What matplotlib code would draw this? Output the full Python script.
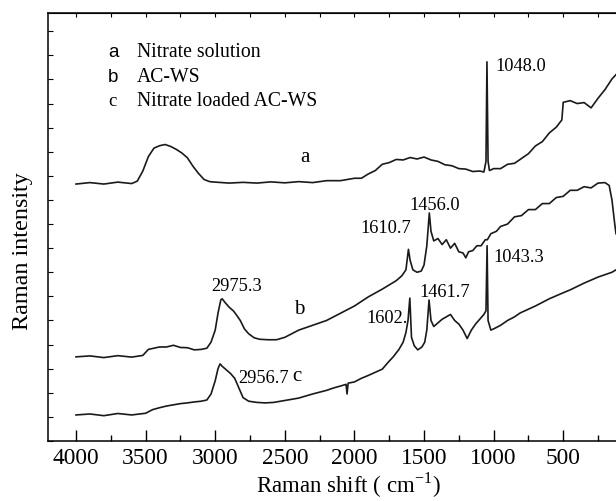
import numpy as np
import matplotlib
matplotlib.use("Agg")
import matplotlib.pyplot as plt
from matplotlib.ticker import MultipleLocator

# ---------------- datos ----------------
# desplazamiento Raman (cm-1) e intensidad (unidades arbitrarias, con offset)
shift_a = [4000, 3900, 3800, 3700, 3600, 3560, 3520, 3480, 3440, 3400, 3360, 3320,
           3280, 3240, 3200, 3160, 3120, 3080, 3040, 3000, 2900, 2800, 2700, 2600,
           2500, 2400, 2300, 2200, 2100, 2000, 1950, 1900, 1850, 1800, 1750, 1700,
           1650, 1600, 1550, 1500, 1450, 1400, 1350, 1300, 1250, 1200, 1150, 1100,
           1070, 1055, 1048, 1040, 1030, 1000, 950, 900, 850, 800, 750, 700, 650,
           600, 550, 510, 500, 450, 400, 350, 300, 250, 200, 150, 121]
int_a = [10.66, 10.72, 10.66, 10.74, 10.68, 10.78, 11.20, 11.80, 12.15, 12.25, 12.30, 12.22,
         12.10, 11.95, 11.75, 11.40, 11.10, 10.85, 10.76, 10.74, 10.70, 10.73, 10.70, 10.75,
         10.71, 10.76, 10.72, 10.80, 10.80, 10.90, 10.90, 11.08, 11.22, 11.48, 11.55, 11.68,
         11.66, 11.76, 11.70, 11.78, 11.66, 11.60, 11.46, 11.42, 11.30, 11.28, 11.18, 11.20,
         11.16, 11.60, 15.73, 11.60, 11.22, 11.30, 11.30, 11.48, 11.52, 11.72, 11.92, 12.24, 12.42,
         12.78, 13.02, 13.32, 14.05, 14.12, 14.00, 14.04, 13.82, 14.22, 14.58, 15.02, 15.20]

shift_b = [4000, 3900, 3800, 3700, 3600, 3520, 3480, 3440, 3400, 3350, 3300, 3250,
           3200, 3150, 3100, 3060, 3030, 3000, 2980, 2960, 2950, 2930, 2900, 2870,
           2850, 2820, 2790, 2760, 2720, 2680, 2620, 2560, 2500, 2400, 2300, 2200,
           2100, 2000, 1900, 1800, 1700, 1660, 1630, 1612, 1600, 1580, 1550, 1520,
           1500, 1480, 1462, 1450, 1430, 1400, 1370, 1340, 1310, 1280, 1250, 1220,
           1200, 1180, 1150, 1120, 1090, 1060, 1045, 1020, 980, 950, 900, 850, 800,
           750, 700, 650, 600, 550, 500, 450, 400, 350, 300, 250, 200, 170, 150, 130, 121]
int_b = [3.49, 3.53, 3.46, 3.54, 3.48, 3.55, 3.80, 3.85, 3.90, 3.90, 3.97, 3.88,
         3.87, 3.78, 3.80, 3.85, 4.10, 4.60, 5.30, 5.85, 5.90, 5.75, 5.55, 5.40,
         5.25, 5.00, 4.65, 4.45, 4.28, 4.22, 4.20, 4.20, 4.30, 4.60, 4.80, 5.00,
         5.30, 5.60, 5.98, 6.30, 6.65, 6.85, 7.10, 7.95, 7.50, 7.10, 7.00, 7.05,
         7.30, 8.10, 9.46, 8.70, 8.30, 8.40, 8.15, 8.35, 8.00, 8.20, 7.85, 7.80,
         7.60, 7.85, 7.90, 8.10, 8.10, 8.35, 8.35, 8.60, 8.70, 8.90, 9.00, 9.30, 9.35,
         9.60, 9.60, 9.85, 9.85, 10.10, 10.15, 10.40, 10.40, 10.55, 10.50, 10.70, 10.72,
         10.60, 10.00, 9.00, 8.60]

shift_c = [4000, 3900, 3800, 3700, 3600, 3500, 3450, 3400, 3350, 3300, 3250, 3200,
           3150, 3100, 3060, 3030, 3000, 2980, 2965, 2950, 2920, 2890, 2860, 2830,
           2800, 2760, 2700, 2640, 2580, 2500, 2400, 2300, 2200, 2150, 2100, 2060,
           2053, 2045, 2000, 1950, 1900, 1850, 1800, 1760, 1720, 1680, 1650, 1630,
           1615, 1602, 1590, 1570, 1545, 1515, 1495, 1480, 1464, 1450, 1430, 1400,
           1370, 1340, 1310, 1280, 1250, 1220, 1190, 1160, 1130, 1100, 1070, 1055,
           1047, 1040, 1020, 1000, 950, 900, 850, 810, 700, 600, 500, 450, 350, 250,
           150, 121]
int_c = [1.08, 1.12, 1.05, 1.14, 1.08, 1.15, 1.30, 1.38, 1.45, 1.50, 1.55, 1.58,
         1.62, 1.65, 1.70, 1.95, 2.50, 3.00, 3.20, 3.10, 2.95, 2.80, 2.60, 2.20,
         1.80, 1.65, 1.60, 1.58, 1.60, 1.68, 1.78, 1.95, 2.10, 2.20, 2.28, 2.35,
         1.95, 2.40, 2.45, 2.60, 2.72, 2.85, 2.98, 3.25, 3.50, 3.80, 4.10, 4.50,
         5.00, 5.93, 4.30, 3.95, 3.78, 3.90, 4.10, 4.60, 5.85, 5.00, 4.75, 4.90,
         5.05, 5.15, 5.25, 5.00, 4.85, 4.60, 4.25, 4.60, 4.85, 5.05, 5.25, 5.40,
         8.10, 5.00, 4.60, 4.65, 4.80, 5.00, 5.15, 5.31, 5.60, 5.90, 6.15, 6.27, 6.55, 6.80,
         7.00, 7.10]

# etiquetas de picos: (texto, x, y, alineacion)
picos = [("1048.0", 991, 15.52, "left"),
         ("1456.0", 1608, 9.79, "left"),
         ("1610.7", 1594, 8.80, "right"),
         ("1043.3", 1005, 7.63, "left"),
         ("2975.3", 2847, 6.39, "center"),
         ("1461.7", 1350, 6.18, "center"),
         ("1602.", 1616, 5.10, "right"),
         ("2956.7", 2836, 2.61, "left")]

letras = ["a", "b", "c"]
nombres = ["Nitrate solution", "AC-WS", "Nitrate loaded AC-WS"]
pos_letras = [(2355, 11.78), (2398, 5.44), (2413, 2.66)]

# ---------------- figura ----------------
plt.rcParams['font.family'] = 'Liberation Serif'
plt.rcParams['mathtext.fontset'] = 'custom'
plt.rcParams['mathtext.rm'] = 'Liberation Serif'

fig = plt.figure(figsize=(6.16, 5.01), dpi=100)
ax = fig.add_axes([0.0784, 0.1198, 0.9216, 0.8549])

for xs, ys in [(shift_a, int_a), (shift_b, int_b), (shift_c, int_c)]:
    ax.plot(xs, ys, color='#1a1a1a', lw=1.2)

ax.set_xlim(4199, 121)
ax.set_ylim(0, 17.77)

ax.xaxis.set_major_locator(MultipleLocator(500))
ax.xaxis.set_minor_locator(MultipleLocator(250))
ax.yaxis.set_major_locator(MultipleLocator(1))
ax.set_yticklabels([])
ax.tick_params(axis='x', which='major', direction='in', length=8, width=1.0,
               labelsize=16.8, pad=5)
ax.tick_params(axis='x', which='minor', direction='in', length=4, width=1.0)
ax.tick_params(axis='y', which='major', direction='in', length=3.5, width=0.8, left=True)
ax.spines['right'].set_visible(False)
for s in ['left', 'bottom', 'top']:
    ax.spines[s].set_linewidth(1.1)

# ticks pequenos en el borde superior
top = ax.secondary_xaxis('top')
top.xaxis.set_major_locator(MultipleLocator(250))
top.tick_params(direction='in', length=3, width=0.8, labeltop=False)

ax.set_xlabel(r'Raman shift ( cm$^{\mathregular{-1}}$)', fontsize=16.5)
ax.xaxis.set_label_coords(0.528, -0.104)
ax.xaxis.label.set_va('center')
ax.set_ylabel('Raman intensity', fontsize=17.4)
ax.yaxis.set_label_coords(-0.0446, 0.4436)
ax.yaxis.label.set_va('center')

# leyenda escrita a mano
for i, (l, n) in enumerate(zip(letras, nombres)):
    yy = 16.10 - i * 1.0
    fam = 'Liberation Serif' if l == 'c' else 'Liberation Sans'
    ax.text(3770, yy, l, family=fam, fontsize=13.5, ha='left', va='center')
    ax.text(3562, yy, n, fontsize=14.2, ha='left', va='center')

for (l, (x, y)) in zip(letras, pos_letras):
    ax.text(x, y, l, fontsize=15, ha='center', va='center')

for t, x, y, ha in picos:
    ax.text(x, y, t, fontsize=13.2, ha=ha, va='center')

fig.savefig('out.png', dpi=100)
